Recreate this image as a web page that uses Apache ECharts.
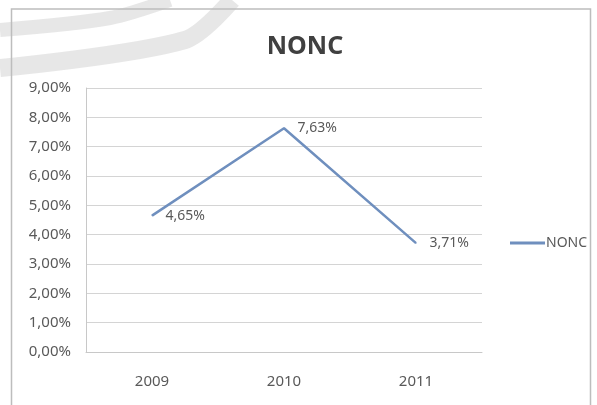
<!DOCTYPE html>
<html>
<head>
<meta charset="utf-8">
<script src="https://cdn.jsdelivr.net/npm/echarts@6/dist/echarts.min.js"></script>
<style>
html,body{margin:0;padding:0;background:#fff;}
#chart{width:597px;height:405px;}
</style>
</head>
<body>
<div id="chart"></div>
<script>
var categories = ['2009', '2010', '2011'];
var seriesName = 'NONC';
var values = [4.65, 7.63, 3.71];
var yMin = 0, yMax = 9, yStep = 1;

function pct(v, d) { return v.toFixed(d).replace('.', ',') + '%'; }

var chart = echarts.init(document.getElementById('chart'), null, {renderer: 'canvas'});
var textColor = '#595959';
var font = 'Noto Sans';

chart.setOption({
  backgroundColor: '#ffffff',
  animation: false,
  title: {
    text: 'NONC',
    left: 300, top: 29, textAlign: 'center',
    textStyle: {fontFamily: font, fontSize: 25, fontWeight: 'bold', color: '#404040'}
  },
  legend: {
    data: [seriesName],
    left: 505, top: 231,
    itemWidth: 35, itemHeight: 3, itemGap: 0,
    icon: 'rect',
    textStyle: {fontFamily: font, fontSize: 14, color: textColor, padding: [0,0,0,-4]}
  },
  grid: {left: 86, right: 115, top: 88, bottom: 53},
  xAxis: {
    type: 'category',
    data: categories,
    boundaryGap: true,
    axisLine: {show: true, lineStyle: {color: '#c8c8c8', width: 1}},
    axisTick: {show: false},
    axisLabel: {fontFamily: font, fontSize: 15, color: textColor, margin: 22}
  },
  yAxis: {
    type: 'value',
    min: yMin, max: yMax, interval: yStep,
    axisLine: {show: true, lineStyle: {color: '#c8c8c8', width: 1}},
    axisTick: {show: false},
    splitLine: {lineStyle: {color: '#d4d4d4', width: 1.2}},
    axisLabel: {fontFamily: font, fontSize: 15, color: textColor, margin: 15,
      formatter: function (v) { return pct(v, 2); }}
  },
  series: [{
    name: seriesName,
    type: 'line',
    data: values,
    showSymbol: true,
    symbol: 'circle',
    symbolSize: 1,
    lineStyle: {color: '#6f8fbe', width: 2.5},
    itemStyle: {color: '#6f8fbe'},
    label: {
      show: true, position: 'right', distance: 13,
      fontFamily: font, fontSize: 14, color: textColor,
      formatter: function (p) { return pct(p.value, 2); }
    }
  }],
  graphic: [
    {type: 'polyline', z: -1, shape: {points: [[0,30],[110,18],[170,0]], smooth: 0.3},
      style: {fill: null, stroke: 'rgba(195,195,195,0.4)', lineWidth: 14}},
    {type: 'polyline', z: -1, shape: {points: [[0,68],[185,40],[232,0]], smooth: 0.3},
      style: {fill: null, stroke: 'rgba(195,195,195,0.4)', lineWidth: 18}},
    {type: 'rect', z: 10, silent: true, shape: {x: 11.5, y: 9, width: 579, height: 410},
      style: {fill: null, stroke: '#bdbdbd', lineWidth: 1.5}}
  ]
});
</script>
</body>
</html>
